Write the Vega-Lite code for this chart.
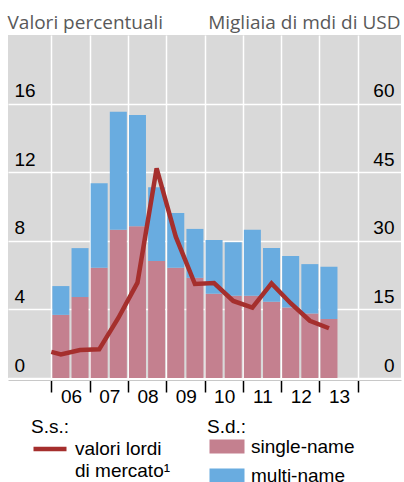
{
  "$schema": "https://vega.github.io/schema/vega-lite/v6.json",
  "width": 393,
  "height": 343,
  "autosize": "none",
  "padding": {"left": 8, "top": 35, "right": 3, "bottom": 104},
  "config": {
    "view": {"fill": "#D9D9D9", "stroke": null},
    "font": "Liberation Sans",
    "axis": {"labelFont": "Liberation Sans", "labelFontSize": 19, "labelColor": "#000000"},
    "legend": {"labelFont": "Liberation Sans", "labelFontSize": 19, "labelColor": "#000000", "titleFont": "Liberation Sans", "titleFontSize": 19, "titleFontWeight": "normal", "titleColor": "#000000", "padding": 0},
    "style": {"guide-label": {"lineHeight": 22}}
  },
  "datasets": {
    "bars": [
      {"t": 2006.25, "type": "single-name", "v": 13.8}, {"t": 2006.25, "type": "multi-name", "v": 6.3},
      {"t": 2006.75, "type": "single-name", "v": 17.7}, {"t": 2006.75, "type": "multi-name", "v": 10.7},
      {"t": 2007.25, "type": "single-name", "v": 24.1}, {"t": 2007.25, "type": "multi-name", "v": 18.5},
      {"t": 2007.75, "type": "single-name", "v": 32.4}, {"t": 2007.75, "type": "multi-name", "v": 25.8},
      {"t": 2008.25, "type": "single-name", "v": 33.2}, {"t": 2008.25, "type": "multi-name", "v": 24.3},
      {"t": 2008.75, "type": "single-name", "v": 25.6}, {"t": 2008.75, "type": "multi-name", "v": 16.1},
      {"t": 2009.25, "type": "single-name", "v": 24.1}, {"t": 2009.25, "type": "multi-name", "v": 12.0},
      {"t": 2009.75, "type": "single-name", "v": 21.9}, {"t": 2009.75, "type": "multi-name", "v": 10.7},
      {"t": 2010.25, "type": "single-name", "v": 18.4}, {"t": 2010.25, "type": "multi-name", "v": 11.8},
      {"t": 2010.75, "type": "single-name", "v": 18.0}, {"t": 2010.75, "type": "multi-name", "v": 11.7},
      {"t": 2011.25, "type": "single-name", "v": 18.0}, {"t": 2011.25, "type": "multi-name", "v": 14.4},
      {"t": 2011.75, "type": "single-name", "v": 16.7}, {"t": 2011.75, "type": "multi-name", "v": 11.7},
      {"t": 2012.25, "type": "single-name", "v": 15.4}, {"t": 2012.25, "type": "multi-name", "v": 11.3},
      {"t": 2012.75, "type": "single-name", "v": 14.1}, {"t": 2012.75, "type": "multi-name", "v": 10.8},
      {"t": 2013.25, "type": "single-name", "v": 12.9}, {"t": 2013.25, "type": "multi-name", "v": 11.4}
    ],
    "line": [
      {"t": 2006.0, "pct": 1.52},
      {"t": 2006.25, "pct": 1.38},
      {"t": 2006.75, "pct": 1.63},
      {"t": 2007.25, "pct": 1.67},
      {"t": 2007.75, "pct": 3.5},
      {"t": 2008.25, "pct": 5.56},
      {"t": 2008.75, "pct": 12.23},
      {"t": 2009.25, "pct": 8.24},
      {"t": 2009.75, "pct": 5.48},
      {"t": 2010.25, "pct": 5.54},
      {"t": 2010.75, "pct": 4.49},
      {"t": 2011.25, "pct": 4.1},
      {"t": 2011.75, "pct": 5.52},
      {"t": 2012.25, "pct": 4.36},
      {"t": 2012.75, "pct": 3.34},
      {"t": 2013.25, "pct": 2.9}
    ]
  },
  "encoding": {
    "x": {
      "field": "t", "type": "quantitative",
      "scale": {"domain": [2005, 2015], "nice": false, "zero": false},
      "axis": {
        "values": [2006, 2007, 2008, 2009, 2010, 2011, 2012, 2013, 2014],
        "title": null, "grid": true, "gridColor": "#FFFFFF", "gridWidth": 1.5,
        "domain": true, "domainColor": "#C8C8C8", "domainWidth": 1, "offset": 2,
        "ticks": true, "tickSize": 12, "tickColor": "#000000", "tickWidth": 1.5,
        "labelExpr": "datum.value >= 2014 ? '' : substring(datum.label, 3)",
        "labelOffset": 19.65, "labelPadding": -5, "labelFlush": false, "labelOverlap": false,
        "labelBaseline": "top"
      }
    }
  },
  "layer": [
    {
      "data": {"name": "bars"},
      "mark": {"type": "bar", "size": 17},
      "encoding": {
        "y": {
          "field": "v", "type": "quantitative", "stack": "zero",
          "scale": {"domain": [0, 75], "nice": false},
          "axis": {
            "orient": "right", "values": [0, 15, 30, 45, 60],
            "title": "Migliaia di mdi di USD", "titleAngle": 0, "titleAlign": "right", "titleBaseline": "alphabetic",
            "titleX": -1, "titleY": -7, "titleFont": "Open Sans", "titleFontSize": 19, "titleFontWeight": "normal", "titleColor": "#595959",
            "grid": true, "gridColor": "#FFFFFF", "gridWidth": 1.5,
            "domain": false, "ticks": false, "tickSize": 0,
            "labelAlign": "right", "labelBaseline": "alphabetic", "labelPadding": -7, "labelOffset": -7, "labelFlush": false
          }
        },
        "color": {
          "field": "type", "type": "nominal",
          "scale": {"domain": ["single-name", "multi-name"], "range": ["#C4808F", "#69ACE0"]},
          "legend": {
            "orient": "none", "legendX": 199, "legendY": 383, "title": "S.d.:", "titlePadding": 0,
            "symbolType": "M-1,-1H4V1H-1Z", "symbolSize": 196, "symbolStrokeWidth": 0, "symbolOpacity": 1,
            "labelOffset": 25, "rowPadding": 9
          }
        },
        "order": {"field": "type", "sort": "descending"}
      }
    },
    {
      "data": {"name": "line"},
      "mark": {"type": "line", "strokeWidth": 4.5},
      "encoding": {
        "y": {
          "field": "pct", "type": "quantitative",
          "scale": {"domain": [0, 20], "nice": false},
          "axis": {
            "orient": "left", "values": [0, 4, 8, 12, 16],
            "title": "Valori percentuali", "titleAngle": 0, "titleAlign": "left", "titleBaseline": "alphabetic",
            "titleX": -1, "titleY": -7, "titleFont": "Open Sans", "titleFontSize": 19, "titleFontWeight": "normal", "titleColor": "#595959",
            "grid": false, "domain": false, "ticks": false, "tickSize": 0,
            "labelAlign": "left", "labelBaseline": "alphabetic", "labelPadding": -6, "labelOffset": -7, "labelFlush": false
          }
        },
        "stroke": {
          "datum": "valori lordi di mercato", "type": "nominal",
          "scale": {"range": ["#A52F2D"]},
          "legend": {
            "orient": "none", "legendX": 23, "legendY": 383, "title": "S.s.:", "titlePadding": -7,
            "symbolType": "stroke", "symbolSize": 1089, "symbolStrokeWidth": 4.5,
            "labelExpr": "['valori lordi', 'di mercato¹']", "labelOffset": 6
          }
        }
      }
    }
  ],
  "resolve": {"scale": {"y": "independent"}}
}
